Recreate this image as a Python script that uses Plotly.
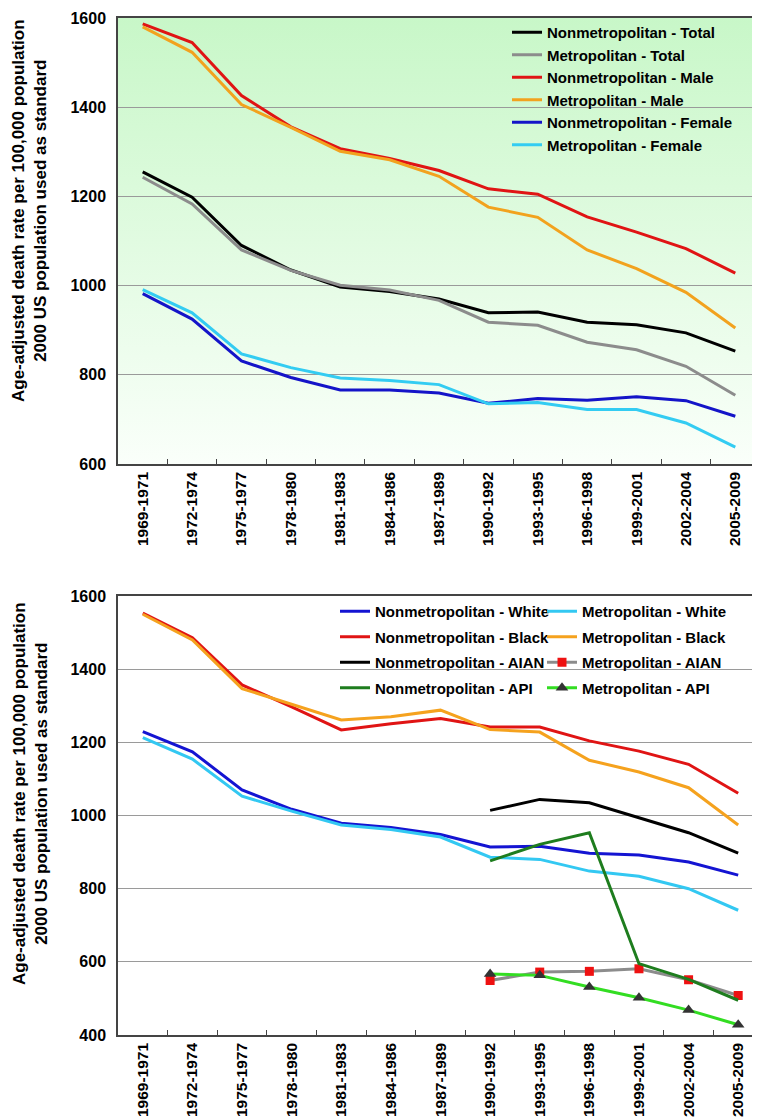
import base64
import plotly.graph_objects as go

categories = ["1969-1971", "1972-1974", "1975-1977", "1978-1980", "1981-1983",
              "1984-1986", "1987-1989", "1990-1992", "1993-1995", "1996-1998",
              "1999-2001", "2002-2004", "2005-2009"]

# Top panel (by sex)
nonmetro_total = [1255, 1198, 1090, 1035, 997, 987, 970, 939, 941, 918, 912, 894, 853]
metro_total = [1243, 1183, 1080, 1034, 1001, 990, 967, 918, 911, 873, 856, 819, 754]
nonmetro_male = [1587, 1545, 1426, 1356, 1307, 1285, 1258, 1217, 1205, 1154, 1120, 1083, 1028]
metro_male = [1580, 1523, 1406, 1355, 1301, 1282, 1245, 1176, 1153, 1080, 1038, 985, 905]
nonmetro_female = [982, 925, 831, 794, 766, 766, 759, 736, 747, 743, 751, 742, 707]
metro_female = [991, 939, 847, 816, 793, 787, 778, 735, 738, 722, 722, 692, 638]

# Bottom panel (by race)
nonmetro_white = [1229, 1174, 1070, 1017, 979, 967, 948, 914, 916, 897, 892, 873, 837]
metro_white = [1213, 1154, 1053, 1012, 974, 962, 941, 886, 880, 848, 834, 800, 741]
nonmetro_black = [1553, 1486, 1357, 1297, 1234, 1251, 1265, 1242, 1242, 1204, 1176, 1140, 1061]
metro_black = [1550, 1480, 1347, 1303, 1261, 1270, 1288, 1235, 1228, 1151, 1119, 1076, 974]
nonmetro_aian = [None, None, None, None, None, None, None, 1014, 1044, 1035, 994, 953, 897]
metro_aian = [None, None, None, None, None, None, None, 549, 572, 574, 581, 551, 508]
nonmetro_api = [None, None, None, None, None, None, None, 876, 921, 953, 595, 552, 495]
metro_api = [None, None, None, None, None, None, None, 567, 563, 531, 502, 468, 428]

y_title = "<b>Age-adjusted death rate per 100,000 population<br>2000 US population used as standard</b>"

W, H = 760, 1117
FONT = "Liberation Sans, Arial, Helvetica, sans-serif"

top_x = [110 / W, 752 / W]
top_y = [1 - 456 / H, 1 - 10 / H]
bot_x = [110 / W, 755 / W]
bot_y = [1 - 1027 / H, 1 - 588 / H]

fig = go.Figure()

top_series = [
    ("Nonmetropolitan - Total", nonmetro_total, "#000000"),
    ("Metropolitan - Total", metro_total, "#8c8c8c"),
    ("Nonmetropolitan - Male", nonmetro_male, "#e01414"),
    ("Metropolitan - Male", metro_male, "#f2a21e"),
    ("Nonmetropolitan - Female", nonmetro_female, "#1414c8"),
    ("Metropolitan - Female", metro_female, "#33ccf2"),
]
for name, vals, col in top_series:
    fig.add_trace(go.Scatter(x=categories, y=vals, name=name, mode="lines",
                             line=dict(color=col, width=3),
                             xaxis="x", yaxis="y", legend="legend"))

bottom_series = [
    ("Nonmetropolitan - White", nonmetro_white, "#1414d2", "legend2", None),
    ("Metropolitan - White", metro_white, "#33c8f2", "legend3", None),
    ("Nonmetropolitan - Black", nonmetro_black, "#e01414", "legend2", None),
    ("Metropolitan - Black", metro_black, "#f5a21e", "legend3", None),
    ("Nonmetropolitan - AIAN", nonmetro_aian, "#000000", "legend2", None),
    ("Metropolitan - AIAN", metro_aian, "#8c8c8c", "legend3",
     dict(symbol="square", size=9, color="#ee1111")),
    ("Nonmetropolitan - API", nonmetro_api, "#1e7d1e", "legend2", None),
    ("Metropolitan - API", metro_api, "#33dd22", "legend3",
     dict(symbol="triangle-up", size=11, color="#333333")),
]
for name, vals, col, leg, mk in bottom_series:
    fig.add_trace(go.Scatter(x=categories, y=vals, name=name,
                             mode="lines+markers" if mk else "lines",
                             marker=mk, line=dict(color=col, width=3),
                             connectgaps=False, legendgroup=name,
                             xaxis="x2", yaxis="y2", legend=leg))

svg = ('<svg xmlns="http://www.w3.org/2000/svg" width="100" height="100" viewBox="0 0 100 100" '
       'preserveAspectRatio="none"><defs><linearGradient id="g" x1="0" y1="0" x2="0" y2="1">'
       '<stop offset="0" stop-color="rgb(200,247,200)"/>'
       '<stop offset="1" stop-color="rgb(250,255,250)"/></linearGradient></defs>'
       '<rect x="0" y="0" width="100" height="100" fill="url(#g)"/></svg>')
src = "data:image/svg+xml;base64," + base64.b64encode(svg.encode()).decode()

tickfont = dict(family=FONT, size=16, color="#000", weight="bold")
xtickfont = dict(family=FONT, size=15.5, color="#000", weight="bold")
common_x = dict(type="category", range=[-0.5, 12.5], tickangle=-90, tickfont=xtickfont,
                ticks="inside", tickson="boundaries", ticklen=5, tickcolor="#444",
                showgrid=False, showline=True, linecolor="#444", linewidth=1.5,
                mirror=True, automargin=False, zeroline=False, ticklabelstandoff=0)
common_y = dict(dtick=200, tickfont=tickfont, ticks="", showgrid=True,
                gridcolor="#9a9a9a", gridwidth=1, showline=True, linecolor="#444",
                linewidth=1.5, mirror=True, automargin=False, zeroline=False,
                ticklabelstandoff=7)

legfont = dict(family=FONT, size=15, color="#000", weight="bold")

fig.update_layout(
    width=W, height=H, autosize=False,
    template="none",
    margin=dict(l=0, r=0, t=0, b=0, pad=0),
    paper_bgcolor="white",
    plot_bgcolor="rgba(0,0,0,0)",
    font=dict(family=FONT),
    xaxis=dict(domain=top_x, anchor="y", **common_x),
    yaxis=dict(domain=top_y, anchor="x", range=[600, 1600], **common_y),
    xaxis2=dict(domain=bot_x, anchor="y2", **common_x),
    yaxis2=dict(domain=bot_y, anchor="x2", range=[400, 1600], **common_y),
    legend=dict(x=499 / W, y=1 - 8 / H, xanchor="left", yanchor="top",
                bgcolor="rgba(0,0,0,0)", borderwidth=0, font=legfont,
                traceorder="normal"),
    legend2=dict(x=327 / W, y=1 - 587 / H, xanchor="left", yanchor="top",
                 bgcolor="rgba(0,0,0,0)", borderwidth=0, font=legfont,
                 traceorder="grouped", tracegroupgap=3),
    legend3=dict(x=534 / W, y=1 - 587 / H, xanchor="left", yanchor="top",
                 bgcolor="rgba(0,0,0,0)", borderwidth=0, font=legfont,
                 traceorder="grouped", tracegroupgap=3),
    images=[dict(source=src, xref="paper", yref="paper", x=top_x[0], y=top_y[1],
                 sizex=top_x[1] - top_x[0], sizey=top_y[1] - top_y[0],
                 xanchor="left", yanchor="top", sizing="stretch", layer="below")],
    shapes=[
        # legend boxes hide the 1400 gridline behind them
        dict(type="line", xref="paper", yref="y", x0=495 / W, x1=743 / W, y0=1400, y1=1400,
             line=dict(color="rgb(210,249,210)", width=3), layer="between"),
        dict(type="line", xref="paper", yref="y2", x0=337 / W, x1=747 / W, y0=1400, y1=1400,
             line=dict(color="white", width=3), layer="between"),
    ],
    annotations=[
        dict(text=y_title, textangle=-90, xref="paper", yref="paper",
             x=22 / W, y=1 - 203 / H, xanchor="center", yanchor="middle",
             showarrow=False, font=dict(family=FONT, size=17, color="#000")),
        dict(text=y_title, textangle=-90, xref="paper", yref="paper",
             x=22 / W, y=1 - 786 / H, xanchor="center", yanchor="middle",
             showarrow=False, font=dict(family=FONT, size=17, color="#000")),
    ],
)

fig.write_html("out.html")
